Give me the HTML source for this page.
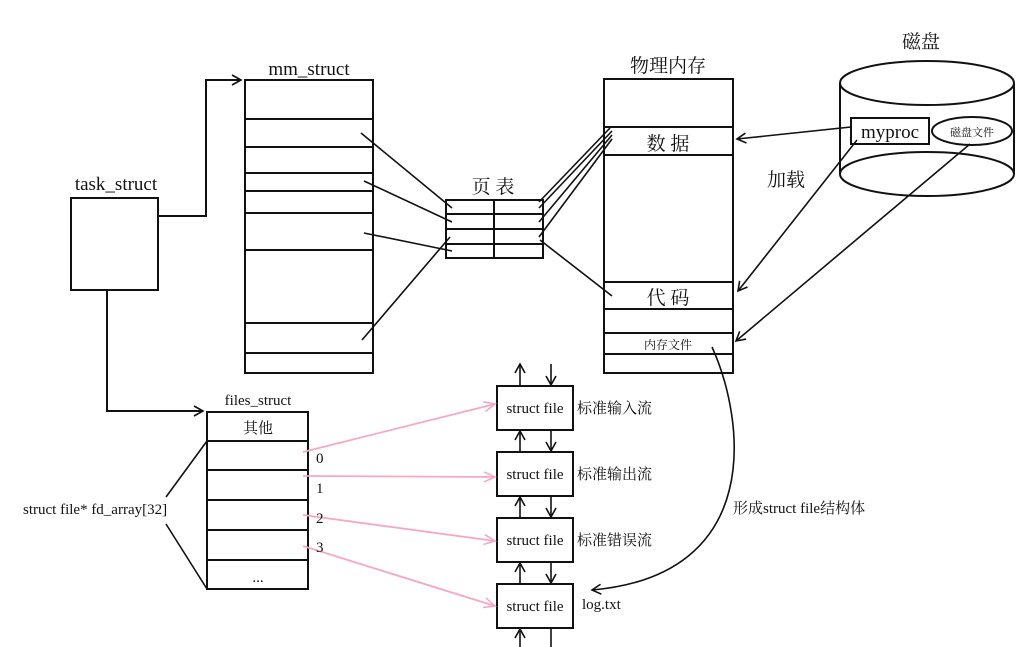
<!DOCTYPE html>
<html><head><meta charset="utf-8"><style>
html,body{margin:0;padding:0;background:#fff;}
svg{display:block;}
text{font-family:"Liberation Serif","Noto Serif CJK SC",serif;fill:#111;}
</style></head><body>
<svg width="1035" height="647" viewBox="0 0 1035 647" xmlns="http://www.w3.org/2000/svg">
<defs>
<marker id="a" markerWidth="12" markerHeight="12" refX="10" refY="6" orient="auto" markerUnits="userSpaceOnUse">
<path d="M1,1 L10,6 L1,11" fill="none" stroke="#111" stroke-width="1.6"/></marker>
<marker id="p" markerWidth="14" markerHeight="12" refX="12" refY="6" orient="auto" markerUnits="userSpaceOnUse">
<path d="M1,1 L12,6 L1,11" fill="none" stroke="#f7a8c0" stroke-width="1.6"/></marker>
</defs>
<g stroke="#111" stroke-width="2" fill="none">
<!-- task_struct -->
<rect x="71" y="198" width="87" height="92"/>
<polyline points="158,216 206,216 206,80 241,80" marker-end="url(#a)"/>
<polyline points="107,290 107,411 203,411" marker-end="url(#a)"/>
<!-- mm_struct -->
<rect x="245" y="80" width="128" height="293"/>
<path d="M245,119H373M245,147H373M245,173H373M245,191H373M245,213H373M245,250H373M245,323H373M245,353H373"/>
<!-- page table -->
<rect x="446" y="200" width="97" height="58"/>
<path d="M494,200V258M446,214H543M446,229H543M446,244H543"/>
<g stroke-width="1.6">
<path d="M361,133L452,208M364,181L452,222M364,233L452,251M362,340L450,237"/>
<path d="M539,208L612,131M539,222L612,135M539,237L612,139M539,202L610,128M540,240L612,296"/>
</g>
<!-- physical memory -->
<rect x="604" y="79" width="129" height="294"/>
<path d="M604,127H733M604,155H733M604,282H733M604,309H733M604,333H733M604,354H733"/>
<!-- disk -->
<path d="M840,83V174M1014,83V174"/>
<ellipse cx="927" cy="83" rx="87" ry="22" fill="#fff"/>
<path d="M840,174A87,22 0 0 0 1014,174"/>
<path d="M840,174A87,22 0 0 1 1014,174"/>
<rect x="851" y="118" width="78" height="26"/>
<ellipse cx="972" cy="131" rx="40" ry="14"/>
<g stroke-width="1.6">
<path d="M851,127L737,139" marker-end="url(#a)"/>
<path d="M857,140L738,291" marker-end="url(#a)"/>
<path d="M970,144L736,341" marker-end="url(#a)"/>
<path d="M712,347C745,420 765,575 592,590" marker-end="url(#a)"/>
</g>
<!-- files_struct -->
<rect x="207" y="412" width="101" height="177"/>
<path d="M207,441H308M207,470H308M207,500H308M207,530H308M207,560H308"/>
<path d="M207,441L166,497M166,524L207,589" stroke-width="1.6"/>
<!-- struct file boxes -->
<rect x="497" y="386" width="76" height="44"/>
<rect x="497" y="452" width="76" height="44"/>
<rect x="497" y="518" width="76" height="44"/>
<rect x="497" y="584" width="76" height="44"/>
<g stroke-width="1.6">
<path d="M520,385V364" marker-end="url(#a)"/><path d="M551,364V385" marker-end="url(#a)"/>
<path d="M520,451V431" marker-end="url(#a)"/><path d="M551,431V451" marker-end="url(#a)"/>
<path d="M520,517V497" marker-end="url(#a)"/><path d="M551,497V517" marker-end="url(#a)"/>
<path d="M520,583V563" marker-end="url(#a)"/><path d="M551,563V583" marker-end="url(#a)"/>
<path d="M520,647V629" marker-end="url(#a)"/><path d="M551,629V647"/>
</g>
</g>
<g stroke="#f7a8c0" stroke-width="1.8" fill="none">
<path d="M303,452L495,404" marker-end="url(#p)"/>
<path d="M303,476L495,477" marker-end="url(#p)"/>
<path d="M303,515L495,541" marker-end="url(#p)"/>
<path d="M303,546L495,606" marker-end="url(#p)"/>
</g>
<g font-size="19">
<text x="116" y="190" text-anchor="middle">task_struct</text>
<text x="309" y="75" text-anchor="middle">mm_struct</text>
<text x="493" y="193" text-anchor="middle">页 表</text>
<text x="668" y="72" text-anchor="middle">物理内存</text>
<text x="921" y="48" text-anchor="middle">磁盘</text>
<text x="890" y="138" text-anchor="middle">myproc</text>
<text x="786" y="186" text-anchor="middle">加载</text>
<text x="668" y="150" text-anchor="middle">数 据</text>
<text x="668" y="304" text-anchor="middle">代 码</text>
</g>
<g font-size="15">
<text x="258" y="405" text-anchor="middle">files_struct</text>
<text x="258" y="433" text-anchor="middle">其他</text>
<text x="258" y="582" text-anchor="middle">...</text>
<text x="23" y="514">struct file* fd_array[32]</text>
<text x="316" y="463">0</text>
<text x="316" y="493">1</text>
<text x="316" y="523">2</text>
<text x="316" y="552">3</text>
<text x="535" y="413" text-anchor="middle">struct file</text>
<text x="535" y="479" text-anchor="middle">struct file</text>
<text x="535" y="545" text-anchor="middle">struct file</text>
<text x="535" y="611" text-anchor="middle">struct file</text>
<text x="577" y="413">标准输入流</text>
<text x="577" y="479">标准输出流</text>
<text x="577" y="545">标准错误流</text>
<text x="582" y="609">log.txt</text>
<text x="733" y="513">形成struct file结构体</text>
</g>
<text x="668" y="349" text-anchor="middle" font-size="12">内存文件</text>
<text x="972" y="136" text-anchor="middle" font-size="11">磁盘文件</text>
</svg>
</body></html>
